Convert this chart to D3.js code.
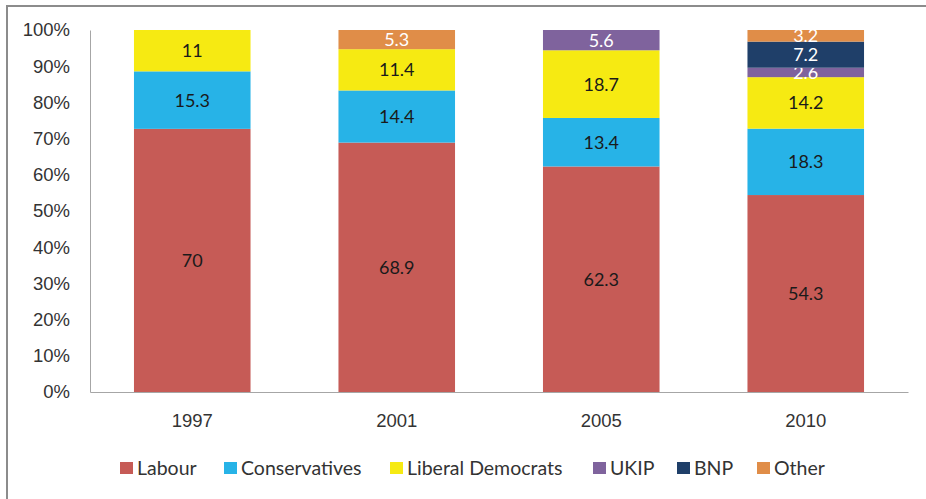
<!DOCTYPE html>
<html>
<head>
<meta charset="utf-8">
<script src="https://cdn.jsdelivr.net/npm/d3@7"></script>
<style>
  body { margin: 0; background: #fff; }
  svg { display: block; font-family: Lato, "Open Sans", sans-serif; }
</style>
</head>
<body>
<svg id="chart" width="926" height="499"></svg>
<script>
// election shares
var years = ["1997", "2001", "2005", "2010"]
var parties = ["Labour", "Conservatives", "Liberal Democrats", "UKIP", "BNP", "Other"]
var labour = [70, 68.9, 62.3, 54.3]
var conservatives = [15.3, 14.4, 13.4, 18.3]
var libdems = [11, 11.4, 18.7, 14.2]
var ukip = [0, 0, 5.6, 2.6]
var bnp = [0, 0, 0, 7.2]
var other = [0, 5.3, 0, 3.2]
var yTicks = [0, 0.1, 0.2, 0.3, 0.4, 0.5, 0.6, 0.7, 0.8, 0.9, 1]

var colors = ["#c65b56", "#27b3e7", "#f6ea12", "#7f639d", "#1f3f69", "#e08d48"]
var labelColors = ["#1a1a1a", "#1a1a1a", "#1a1a1a", "#fff", "#fff", "#fff"]

var series = [labour, conservatives, libdems, ukip, bnp, other]
var rows = years.map(function(y, i) {
  var r = { year: y }
  parties.forEach(function(p, j) { r[p] = series[j][i] })
  return r
})

var svg = d3.select("#chart")

// outer frame
svg.append("rect").attr("x", 7).attr("y", 6).attr("width", 960).attr("height", 540)
  .attr("fill", "none").attr("stroke", "#8c8c8c").attr("stroke-width", 2)

var x = d3.scaleBand().domain(years).range([90, 908]).paddingInner(0.43).paddingOuter(0.215)
var y = d3.scaleLinear().domain([0, 1]).range([392, 30])

var stack = d3.stack().keys(parties).offset(d3.stackOffsetExpand)
var layers = stack(rows)

var g = svg.append("g")
layers.forEach(function(layer, j) {
  layer.forEach(function(d) {
    var v = d.data[parties[j]]
    if (!v) return
    g.append("rect")
      .attr("x", x(d.data.year))
      .attr("y", y(d[1]))
      .attr("width", x.bandwidth())
      .attr("height", y(d[0]) - y(d[1]))
      .attr("fill", colors[j])
    g.append("text")
      .attr("x", x(d.data.year) + x.bandwidth() / 2)
      .attr("y", (y(d[0]) + y(d[1])) / 2)
      .attr("dy", "0.36em")
      .attr("text-anchor", "middle")
      .attr("font-size", 18)
      .attr("fill", labelColors[j])
      .text(v)
  })
})

// axes
var yAxis = svg.append("g").attr("transform", "translate(90,0)")
  .call(d3.axisLeft(y).tickValues(yTicks).tickFormat(d3.format(".0%")).tickSize(0).tickPadding(20))
yAxis.select(".domain").attr("stroke", "#a6a6a6")
yAxis.selectAll("text").attr("font-size", 18.5).attr("fill", "#333").attr("font-family", null)

var xAxis = svg.append("g").attr("transform", "translate(0,392)")
  .call(d3.axisBottom(x).tickSize(0).tickPadding(22))
xAxis.select(".domain").attr("stroke", "#a6a6a6")
xAxis.selectAll("text").attr("font-size", 18.5).attr("fill", "#333").attr("font-family", null)

// legend
var legendX = [120, 224, 390, 593, 677, 757]
var legend = svg.append("g")
parties.forEach(function(p, j) {
  legend.append("rect").attr("x", legendX[j]).attr("y", 462).attr("width", 13).attr("height", 12)
    .attr("fill", colors[j])
  legend.append("text").attr("x", legendX[j] + 17).attr("y", 468).attr("dy", "0.36em")
    .attr("font-size", 19.5).attr("fill", "#333").text(p)
})
</script>
</body>
</html>
